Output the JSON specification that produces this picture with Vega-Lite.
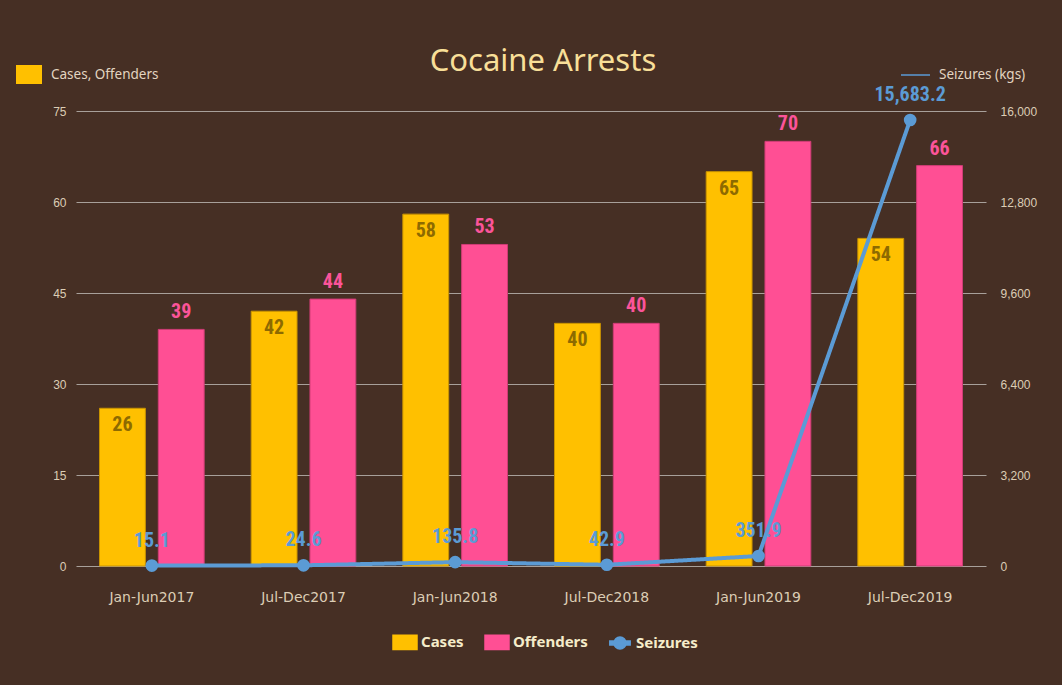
{
  "$schema": "https://vega.github.io/schema/vega-lite/v6.json",
  "width": 910,
  "height": 455,
  "autosize": {"type": "none"},
  "padding": {"left": 76, "top": 111, "right": 76, "bottom": 119},
  "background": "#462f24",
  "config": {
    "view": {"stroke": null},
    "axis": {"labelColor": "#dccdb5", "ticks": false, "domain": false, "title": null}
  },
  "title": {
    "text": "Cocaine Arrests",
    "font": "Noto Sans",
    "fontSize": 31,
    "fontWeight": "normal",
    "color": "#f8df98",
    "anchor": "middle",
    "baseline": "alphabetic",
    "offset": 36,
    "dy": 78.5,
    "dx": 12
  },
  "datasets": {
    "bars": [
      {"period": "Jan-Jun2017", "metric": "Cases", "value": 26},
      {"period": "Jan-Jun2017", "metric": "Offenders", "value": 39},
      {"period": "Jul-Dec2017", "metric": "Cases", "value": 42},
      {"period": "Jul-Dec2017", "metric": "Offenders", "value": 44},
      {"period": "Jan-Jun2018", "metric": "Cases", "value": 58},
      {"period": "Jan-Jun2018", "metric": "Offenders", "value": 53},
      {"period": "Jul-Dec2018", "metric": "Cases", "value": 40},
      {"period": "Jul-Dec2018", "metric": "Offenders", "value": 40},
      {"period": "Jan-Jun2019", "metric": "Cases", "value": 65},
      {"period": "Jan-Jun2019", "metric": "Offenders", "value": 70},
      {"period": "Jul-Dec2019", "metric": "Cases", "value": 54},
      {"period": "Jul-Dec2019", "metric": "Offenders", "value": 66}
    ],
    "seiz": [
      {"period": "Jan-Jun2017", "seizures": 15.1},
      {"period": "Jul-Dec2017", "seizures": 24.6},
      {"period": "Jan-Jun2018", "seizures": 135.8},
      {"period": "Jul-Dec2018", "seizures": 42.9},
      {"period": "Jan-Jun2019", "seizures": 351.9},
      {"period": "Jul-Dec2019", "seizures": 15683.2}
    ]
  },
  "layer": [
    {
      "data": {"name": "bars"},
      "encoding": {
        "x": {
          "field": "period", "type": "nominal", "sort": null,
          "scale": {"domain": ["Jan-Jun2017", "Jul-Dec2017", "Jan-Jun2018", "Jul-Dec2018", "Jan-Jun2019", "Jul-Dec2019"], "paddingInner": 0.31, "paddingOuter": 0.155},
          "axis": {"labelAngle": 0, "labelFont": "DejaVu Sans", "labelFontSize": 14, "labelPadding": 24, "grid": false}
        },
        "xOffset": {"field": "metric", "type": "nominal", "scale": {"domain": ["Cases", "Offenders"], "paddingInner": 0.22, "paddingOuter": 0}},
        "y": {
          "field": "value", "type": "quantitative",
          "scale": {"domain": [0, 75], "nice": false},
          "axis": {"values": [0, 15, 30, 45, 60, 75], "labelFont": "Liberation Sans", "labelFontSize": 12, "labelPadding": 10, "grid": true, "gridColor": "#a8a09a", "gridWidth": 1}
        }
      },
      "layer": [
        {
          "mark": {"type": "bar", "strokeWidth": 1},
          "encoding": {
            "color": {
              "field": "metric", "type": "nominal",
              "scale": {"domain": ["Cases", "Offenders", "Seizures"], "range": ["#FFC000", "#FF4F94", "#5B9BD5"]},
              "legend": {
                "orient": "none", "legendX": 316, "legendY": 518,
                "direction": "horizontal", "columns": 3, "title": null,
                "symbolSize": 576, "labelOffset": 3, "columnPadding": 18,
                "labelFont": "Noto Sans", "labelFontSize": 15, "labelFontWeight": "bold", "labelColor": "#f5ecca",
                "encode": {
                  "symbols": {
                    "update": {
                      "shape": {"signal": "datum.value === 'Seizures' ? 'M-0.85,-0.17H0.85V0.17H-0.85Z M0.5,0A0.5,0.5 0 1 1 -0.5,0A0.5,0.5 0 1 1 0.5,0Z' : 'M-1,-0.6H1V0.6H-1Z'"},
                      "fill": {"scale": "color", "field": "value"},
                      "stroke": {"value": "transparent"},
                      "opacity": {"value": 1}
                    }
                  }
                }
              }
            },
            "stroke": {"field": "metric", "type": "nominal", "scale": {"domain": ["Cases", "Offenders"], "range": ["#c99300", "#cf3d76"]}, "legend": null}
          }
        },
        {
          "mark": {"type": "text", "font": "Liberation Sans Narrow, Roboto Condensed, Roboto", "fontSize": 20, "fontWeight": "bold", "baseline": "middle", "dy": 17},
          "transform": [{"filter": "datum.metric === 'Cases'"}],
          "encoding": {"text": {"field": "value"}, "color": {"value": "#8d6a00"}}
        },
        {
          "mark": {"type": "text", "font": "Liberation Sans Narrow, Roboto Condensed, Roboto", "fontSize": 20, "fontWeight": "bold", "baseline": "middle", "dy": -17},
          "transform": [{"filter": "datum.metric === 'Offenders'"}],
          "encoding": {"text": {"field": "value"}, "color": {"value": "#fb5499"}}
        },
        {
          "mark": {"type": "point", "filled": true, "opacity": 1, "color": "#FFC000", "stroke": "#2a1c0e", "strokeWidth": 1.5},
          "transform": [{"filter": "false"}],
          "encoding": {
            "shape": {
              "datum": "Cases, Offenders",
              "scale": {"domain": ["Cases, Offenders"], "range": ["M-1,-0.73H1V0.73H-1Z"]},
              "legend": {
                "orient": "none", "legendX": -61, "legendY": -50.5, "title": null,
                "symbolSize": 676, "symbolFillColor": "#FFC000", "symbolStrokeColor": "#2a1c0e", "symbolStrokeWidth": 1.5, "symbolOpacity": 1,
                "labelOffset": 8, "labelFont": "Noto Sans", "labelFontSize": 13.5, "labelColor": "#e3d5c0"
              }
            }
          }
        }
      ]
    },
    {
      "data": {"name": "seiz"},
      "encoding": {
        "x": {"field": "period", "type": "nominal", "sort": null},
        "y": {
          "field": "seizures", "type": "quantitative",
          "scale": {"domain": [0, 16000], "nice": false},
          "axis": {"orient": "right", "values": [0, 3200, 6400, 9600, 12800, 16000], "labelExpr": "format(datum.value, ',')", "labelFont": "Liberation Sans", "labelFontSize": 12, "labelPadding": 14, "grid": false}
        }
      },
      "layer": [
        {
          "mark": {"type": "text", "font": "Liberation Sans Narrow, Roboto Condensed, Roboto", "fontSize": 20, "fontWeight": "bold", "baseline": "middle", "dy": -25, "color": "#5B9BD5"},
          "encoding": {"text": {"field": "seizures", "format": ",.1f"}}
        },
        {
          "mark": {"type": "line", "strokeWidth": 4},
          "encoding": {
            "color": {"datum": "Seizures"},
            "strokeDash": {
              "datum": "Seizures (kgs)",
              "scale": {"domain": ["Seizures (kgs)"], "range": [[1, 0]]},
              "legend": {
                "orient": "none", "legendX": 824, "legendY": -51.5, "title": null,
                "symbolType": "stroke", "symbolSize": 841, "symbolStrokeWidth": 1.5, "symbolStrokeColor": "#5B9BD5",
                "labelOffset": 8, "labelFont": "Noto Sans", "labelFontSize": 13.5, "labelColor": "#e3d5c0",
                "encode": {"symbols": {"update": {"stroke": {"value": "#5B9BD5"}, "strokeWidth": {"value": 1.5}, "strokeDash": {"value": [1, 0]}, "opacity": {"value": 1}}}}
              }
            }
          }
        },
        {
          "mark": {"type": "point", "filled": true, "size": 160, "opacity": 1},
          "encoding": {"color": {"datum": "Seizures"}}
        }
      ]
    }
  ],
  "resolve": {"scale": {"y": "independent"}}
}
